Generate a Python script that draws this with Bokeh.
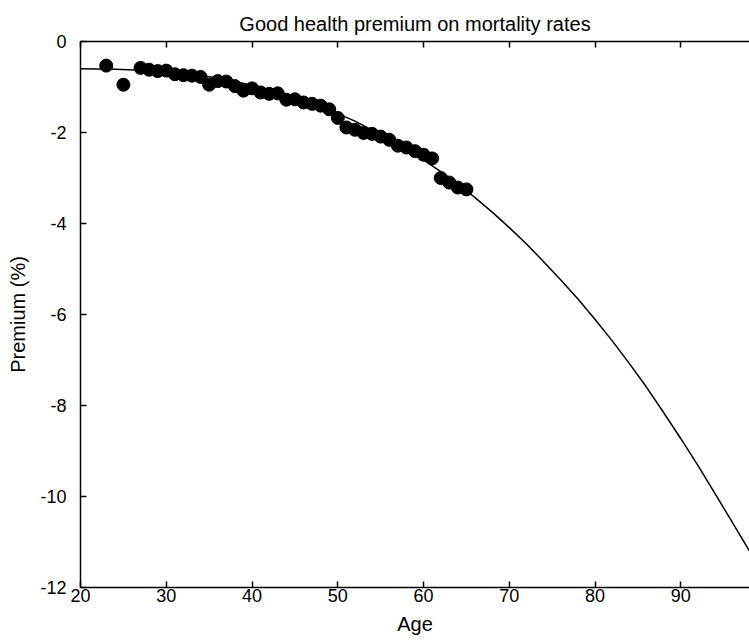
from bokeh.plotting import figure
from bokeh.models import LinearAxis, FixedTicker, Range1d, CustomJSTickFormatter
from bokeh.embed import file_html
from bokeh.resources import INLINE

# Observed premiums by age
ages = [23, 25, 27, 28, 29, 30, 31, 32, 33, 34, 35, 36, 37, 38, 39, 40, 41, 42, 43, 44,
        45, 46, 47, 48, 49, 50, 51, 52, 53, 54, 55, 56, 57, 58, 59, 60, 61, 62, 63, 64, 65]
premium = [-0.53, -0.95, -0.58, -0.62, -0.65, -0.64, -0.72, -0.74, -0.75, -0.78,
           -0.95, -0.87, -0.88, -0.98, -1.08, -1.03, -1.12, -1.15, -1.14, -1.28,
           -1.27, -1.34, -1.37, -1.41, -1.49, -1.68, -1.89, -1.94, -2.01, -2.03,
           -2.09, -2.16, -2.29, -2.33, -2.41, -2.49, -2.57, -3.00, -3.10, -3.21, -3.25]

# Fitted curve
curve_age = [20, 24, 28, 32, 36, 40, 44, 48, 52, 56, 60, 62, 64, 66, 68, 70, 72, 74, 76, 78,
             80, 82, 84, 86, 88, 90, 92, 94, 96, 98]
curve_premium = [-0.60, -0.61, -0.64, -0.70, -0.80, -0.96, -1.16, -1.42, -1.75, -2.14,
                 -2.60, -2.86, -3.13, -3.43, -3.75, -4.09, -4.45, -4.84, -5.24, -5.66,
                 -6.11, -6.58, -7.08, -7.60, -8.16, -8.73, -9.32, -9.94, -10.57, -11.20]

x_ticks = [20, 30, 40, 50, 60, 70, 80, 90]
y_ticks = [0, -2, -4, -6, -8, -10, -12]

FONT = "Liberation Sans"

p = figure(width=749, height=642, output_backend="svg", toolbar_location=None,
           x_range=Range1d(20, 98), y_range=Range1d(-12, 0),
           x_axis_label="Age", y_axis_label="Premium (%)",
           title="Good health premium on mortality rates",
           min_border_left=80, min_border_right=0, min_border_top=41, min_border_bottom=55)

p.outline_line_color = None
p.xgrid.visible = False
p.ygrid.visible = False
p.background_fill_color = "white"
p.border_fill_color = "white"

p.title.text_font = FONT
p.title.text_font_size = "20px"
p.title.text_font_style = "normal"
p.title.align = "center"
p.title.text_color = "black"
p.title.standoff = 10
p.title.vertical_align = "top"

for ax in p.xaxis + p.yaxis:
    ax.major_label_text_font = FONT
    ax.major_label_text_font_size = "18px"
    ax.major_label_text_color = "black"
    ax.axis_label_text_font = FONT
    ax.axis_label_text_font_size = "20px"
    ax.axis_label_text_font_style = "normal"
    ax.axis_label_text_color = "black"
    ax.major_tick_in = 6
    ax.major_tick_out = 0
    ax.minor_tick_line_color = None
    ax.axis_line_color = "black"
    ax.axis_line_width = 1.5
    ax.major_tick_line_color = "black"
    ax.major_tick_line_width = 1.5

p.xaxis.ticker = FixedTicker(ticks=x_ticks)
p.yaxis.ticker = FixedTicker(ticks=y_ticks)
p.yaxis.major_label_overrides = {t: str(t) for t in y_ticks}
p.xaxis.major_label_standoff = 1
p.xaxis.axis_label_standoff = 8
p.yaxis.major_label_standoff = 14
p.yaxis.axis_label_standoff = 8

top = LinearAxis(ticker=FixedTicker(ticks=x_ticks),
                 formatter=CustomJSTickFormatter(code="return '';"))
top.major_label_standoff = 0
top.major_tick_in = 6
top.major_tick_out = 0
top.minor_tick_line_color = None
top.axis_line_width = 1.5
top.major_tick_line_width = 1.5
p.add_layout(top, "above")

p.line(curve_age, curve_premium, line_color="black", line_width=1.5)
p.scatter(ages, premium, size=13, fill_color="black", line_color="black")

open("out.html", "w").write(file_html(p, INLINE))
